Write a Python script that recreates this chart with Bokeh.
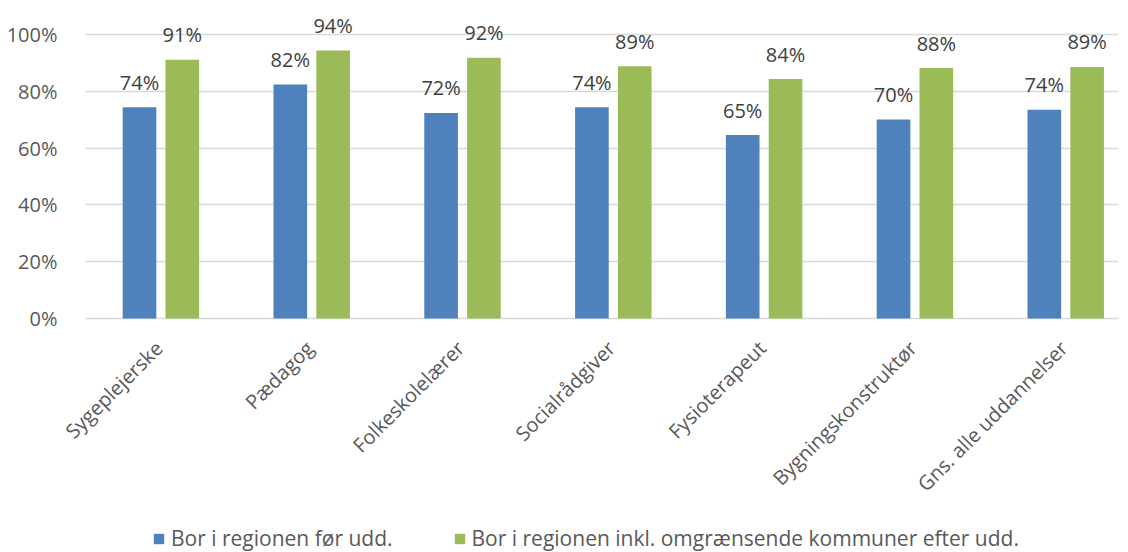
import numpy as np
from bokeh.plotting import figure
from bokeh.models import (ColumnDataSource, Range1d, FixedTicker, NumeralTickFormatter,
                          Legend, LegendItem)
from bokeh.transform import dodge
from bokeh.core.properties import value
from bokeh.embed import file_html
from bokeh.resources import INLINE

categories = ["Sygeplejerske", "Pædagog", "Folkeskolelærer", "Socialrådgiver",
              "Fysioterapeut", "Bygningskonstruktør", "Gns. alle uddannelser"]
before = [0.744, 0.824, 0.724, 0.744, 0.646, 0.701, 0.735]
after = [0.911, 0.944, 0.918, 0.888, 0.843, 0.882, 0.886]
series_names = ["Bor i regionen før udd.",
                "Bor i regionen inkl. omgrænsende kommuner efter udd."]
y_ticks = [0, 0.2, 0.4, 0.6, 0.8, 1.0]

FONT = "Open Sans"
BLUE = "#4F81BD"
GREEN = "#9BBB59"

X_START, X_END = -0.199, 6.85

xs = np.arange(len(categories)) + 0.5
src = ColumnDataSource(dict(
    x=xs, before=before, after=after, cat=categories, base=[0.0] * len(categories),
    before_lbl=[f"{round(v*100)}%" for v in before],
    after_lbl=[f"{round(v*100)}%" for v in after],
))

# frame extends down to the legend row so the legend (drawn in the frame) is visible
p = figure(frame_width=1063, frame_height=541, output_backend="svg", toolbar_location=None,
           x_range=Range1d(X_START, X_END), y_range=Range1d(-0.824, 1.081),
           min_border_left=55, min_border_right=2, min_border_top=11,
           min_border_bottom=0)
p.outline_line_color = None
p.background_fill_color = "white"
p.border_fill_color = "white"

# horizontal gridlines, starting at the left end of the category axis
g = p.ygrid[0]
g.ticker = FixedTicker(ticks=y_ticks)
g.grid_line_color = "#D9D9D9"
g.grid_line_width = 1.5
if "cross_bounds" in g.properties():
    g.cross_bounds = (0, X_END)
else:
    g.grid_line_color = None
    p.segment(x0=[0] * len(y_ticks), x1=[X_END] * len(y_ticks), y0=y_ticks, y1=y_ticks,
              line_color="#D9D9D9", line_width=1.5)
p.xgrid.grid_line_color = None

off = 0.142
w = 0.223
r1 = p.vbar(x=dodge("x", -off, range=p.x_range), top="before", width=w, source=src,
            fill_color=BLUE, line_color=None)
r2 = p.vbar(x=dodge("x", off, range=p.x_range), top="after", width=w, source=src,
            fill_color=GREEN, line_color=None)

for col, lbl, o in (("before", "before_lbl", -off), ("after", "after_lbl", off)):
    p.text(x=dodge("x", o, range=p.x_range), y=col, text=lbl, source=src,
           text_align="center", text_baseline="alphabetic", y_offset=-25,
           text_font=value(FONT), text_font_size="20px", text_color="#404040")

# category labels, rotated 45 degrees, ending just below the baseline
p.text(x="x", y="base", text="cat", source=src, angle=np.pi / 4,
       text_align="right", text_baseline="middle", x_offset=-2, y_offset=26,
       text_font=value(FONT), text_font_size="20px", text_color="#595959")

p.xaxis.visible = False

p.yaxis.ticker = FixedTicker(ticks=y_ticks)
p.yaxis.formatter = NumeralTickFormatter(format="0%")
p.yaxis.axis_line_color = None
p.yaxis.major_tick_line_color = None
p.yaxis.minor_tick_line_color = None
p.yaxis.major_label_text_font = FONT
p.yaxis.major_label_text_font_size = "20px"
p.yaxis.major_label_text_color = "#595959"
p.yaxis.major_label_standoff = -8

legend = Legend(items=[LegendItem(label=series_names[0], renderers=[r1]),
                       LegendItem(label=series_names[1], renderers=[r2])],
                orientation="horizontal", location=(97, 0),
                label_text_font=FONT, label_text_font_size="21px",
                label_text_color="#595959", glyph_width=13, glyph_height=13,
                label_standoff=6, spacing=60, border_line_color=None,
                background_fill_alpha=0, margin=0, padding=0)
p.add_layout(legend, "center")

open("out.html", "w").write(file_html(p, INLINE))
